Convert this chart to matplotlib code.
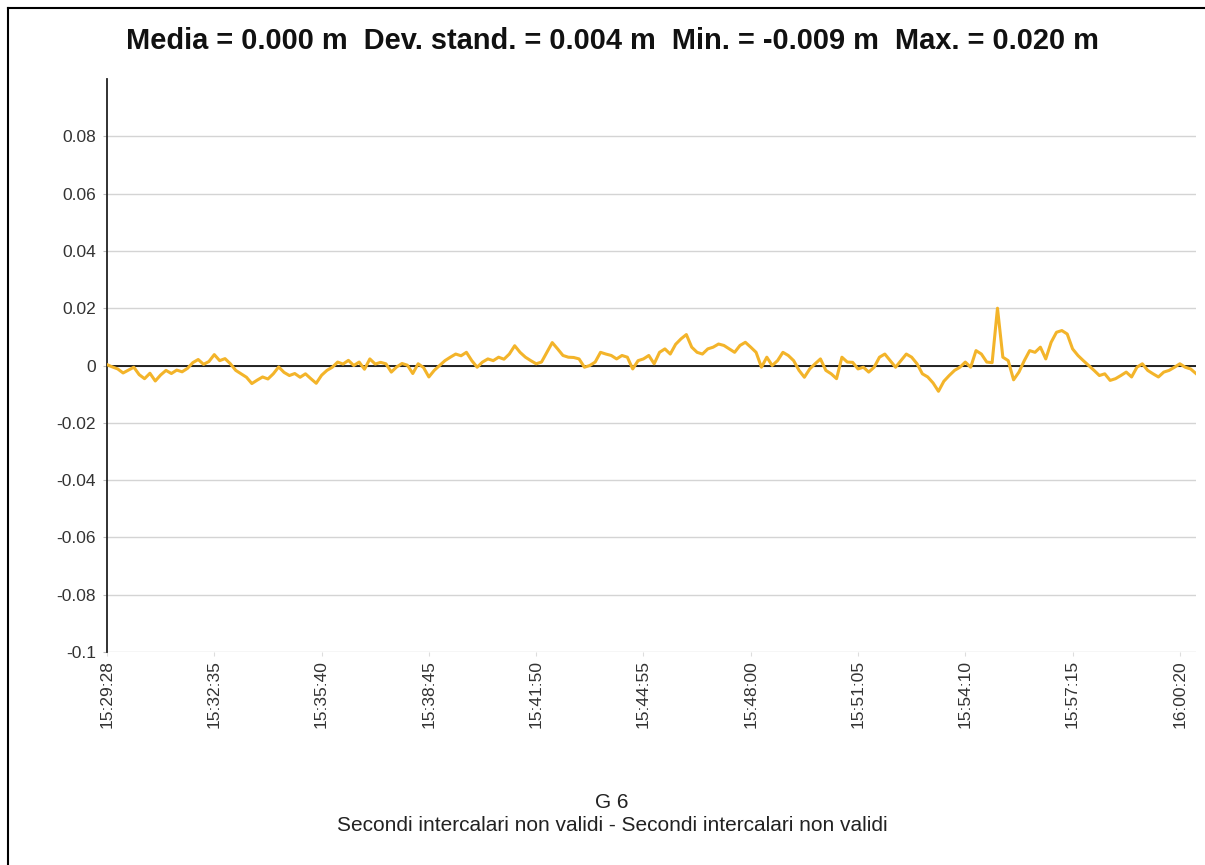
import matplotlib
matplotlib.use("Agg")
import matplotlib.pyplot as plt
from matplotlib.lines import Line2D
import numpy as np

plt.rcParams["font.family"] = ["Liberation Sans", "DejaVu Sans"]

# displacement samples (mm), one block per label interval
disp_mm = [
    0.3, -0.5, -1.2, -2.6, -1.6, -0.6, -3.2, -4.6, -2.7, -5.4, -3.3, -1.7, -2.8, -1.6, -2.2, -1.0, 1.0, 2.1, 0.4, 1.4,
    3.8, 1.7, 2.4, 0.6, -1.7, -2.9, -4.1, -6.3, -5.1, -4.0, -4.7, -2.9, -0.5, -2.4, -3.5, -2.8, -4.1, -2.9, -4.6, -6.2,
    -3.4, -1.7, -0.6, 1.2, 0.5, 1.8, 0.0, 1.2, -1.3, 2.3, 0.5, 1.1, 0.6, -2.3, -0.5, 0.7, 0.1, -2.8, 0.6, -0.7,
    -4.0, -1.7, 0.0, 1.7, 2.9, 4.0, 3.4, 4.6, 1.7, -0.6, 1.2, 2.3, 1.7, 2.9, 2.2, 4.0, 6.9, 4.6, 2.9, 1.7,
    0.6, 1.2, 4.6, 8.0, 5.8, 3.5, 2.9, 2.8, 2.3, -0.6, 0.0, 1.2, 4.6, 4.0, 3.5, 2.3, 3.5, 2.9, -1.2, 1.7,
    2.3, 3.5, 0.6, 4.6, 5.8, 4.0, 7.4, 9.3, 10.8, 6.4, 4.6, 4.0, 5.8, 6.4, 7.5, 7.0, 5.8, 4.6, 7.0, 8.1,
    6.4, 4.6, -0.6, 2.9, 0.0, 1.7, 4.6, 3.5, 1.7, -1.7, -4.1, -1.2, 0.6, 2.3, -1.7, -2.9, -4.6, 2.9, 1.2, 1.1,
    -1.2, -0.6, -2.3, -0.6, 2.9, 4.0, 1.7, -0.6, 1.7, 4.0, 2.9, 0.6, -2.9, -4.0, -6.1, -9.0, -5.5, -3.5, -1.7, -0.6,
    1.2, -0.6, 5.2, 4.0, 1.2, 1.0, 20.0, 2.9, 1.7, -5.0, -2.3, 1.7, 5.2, 4.6, 6.4, 2.3, 8.1, 11.6, 12.2, 11.0,
    5.8, 3.5, 1.7, 0.0, -1.7, -3.5, -2.9, -5.2, -4.6, -3.5, -2.3, -4.0, -0.6, 0.6, -1.7, -2.9, -4.0, -2.3, -1.7, -0.6,
    0.6, -0.6, -1.2, -2.8,
]
time_labels = ["15:29:28", "15:32:35", "15:35:40", "15:38:45", "15:41:50", "15:44:55",
               "15:48:00", "15:51:05", "15:54:10", "15:57:15", "16:00:20"]
label_step = 20
y_ticks = [-0.1, -0.08, -0.06, -0.04, -0.02, 0, 0.02, 0.04, 0.06, 0.08]

title = "Media = 0.000 m  Dev. stand. = 0.004 m  Min. = -0.009 m  Max. = 0.020 m"
footer_1 = "G 6"
footer_2 = "Secondi intercalari non validi - Secondi intercalari non validi"

y = np.array(disp_mm) / 1000.0
x = np.arange(len(y))

fig = plt.figure(figsize=(12.05, 8.65), dpi=100, facecolor="white")
ax = fig.add_axes([0.0888, 0.2462, 0.9037, 0.6625])

ax.set_ylim(-0.1, 0.1)
ax.set_xlim(0, len(y) - 1)
ax.set_yticks(y_ticks)
ax.set_yticklabels([f"{v:g}" for v in y_ticks])
ax.set_xticks(x[::label_step])
ax.set_xticklabels(time_labels, rotation=90)

for v in y_ticks:
    ax.axhline(v, color="#d4d4d4", lw=1.0, zorder=1)
ax.axhline(0, color="black", lw=1.2, zorder=2)
ax.plot(x, y, color="#F3B42A", lw=2.2, zorder=3)

for s in ("top", "right", "bottom"):
    ax.spines[s].set_visible(False)
ax.spines["left"].set_color("#222222")
ax.spines["left"].set_linewidth(1.3)
ax.tick_params(axis="y", length=3, color="#bbbbbb", pad=5, labelsize=12.5, labelcolor="#333333")
ax.tick_params(axis="x", length=3, color="#dddddd", pad=3, labelsize=12.5, labelcolor="#333333")

fig.text(0.508, 0.953, title, ha="center", va="center", fontsize=20.9, fontweight="bold", color="#111111")
fig.text(0.508, 0.0717, footer_1, ha="center", va="center", fontsize=15, color="#222222")
fig.text(0.508, 0.046, footer_2, ha="center", va="center", fontsize=15, color="#222222")

# page frame on top and left
fig.add_artist(Line2D([8 / 1205, 1.0], [1 - 8 / 865, 1 - 8 / 865], transform=fig.transFigure,
                      color="black", lw=1.5))
fig.add_artist(Line2D([8 / 1205, 8 / 1205], [0.0, 1 - 8 / 865], transform=fig.transFigure,
                      color="black", lw=1.5))

fig.savefig("out.png", dpi=100, facecolor="white")
